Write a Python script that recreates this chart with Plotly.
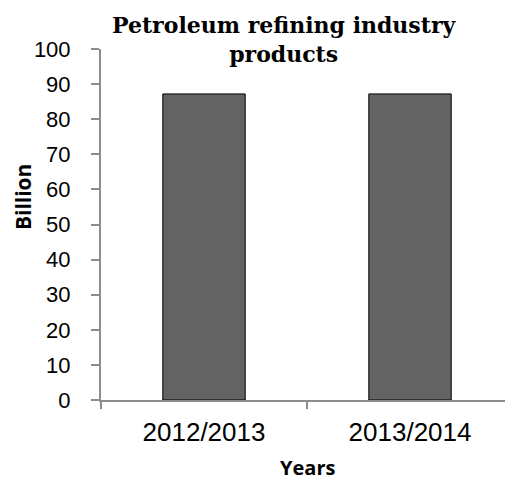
import plotly.graph_objects as go

categories = ["2012/2013", "2013/2014"]
values = [87.2, 87.2]
y_ticks = [0, 10, 20, 30, 40, 50, 60, 70, 80, 90, 100]

fig = go.Figure()
fig.add_trace(go.Bar(
    x=categories, y=values, width=0.40,
    marker=dict(color="#636363", line=dict(color="#000000", width=1)),
))

fig.update_layout(
    width=505, height=481,
    margin=dict(l=101, r=0, t=49, b=81),
    paper_bgcolor="white", plot_bgcolor="white",
    showlegend=False,
    font=dict(family="Liberation Sans, Arial", color="black"),
)
fig.update_xaxes(
    type="category", range=[-0.5, 1.461],
    tickson="boundaries", ticks="outside", ticklen=7, tickcolor="#8c8c8c", tickwidth=2,
    showline=True, linecolor="#8c8c8c", linewidth=2,
    showgrid=False, zeroline=False,
    tickfont=dict(size=26, family="Liberation Sans, Arial", color="black"),
    ticklabelstandoff=8,
)
fig.update_yaxes(
    range=[0, 100], tickvals=y_ticks,
    ticks="outside", ticklen=8, tickcolor="#8c8c8c", tickwidth=2,
    showline=True, linecolor="#8c8c8c", linewidth=2,
    showgrid=False, zeroline=False,
    tickfont=dict(size=22, family="Liberation Sans, Arial", color="black"),
    ticklabelstandoff=16,
)
fig.add_annotation(
    text="<b>Petroleum refining industry<br>products</b>",
    xref="paper", yref="paper", x=0.455, y=1.0, yshift=39, xanchor="center", yanchor="top",
    showarrow=False, font=dict(family="DejaVu Serif", size=22, color="black"),
)
fig.add_annotation(
    text="<b>Billion</b>", textangle=-90,
    xref="paper", yref="paper", x=0, xshift=-78, y=0.578, xanchor="center", yanchor="middle",
    showarrow=False, font=dict(family="Open Sans", size=21, color="black"),
)
fig.add_annotation(
    text="<b>Years</b>",
    xref="paper", yref="paper", x=0.512, y=0, yshift=-67, xanchor="center", yanchor="middle",
    showarrow=False, font=dict(family="Open Sans", size=20, color="black"),
)

fig.write_html("out.html", config={"displayModeBar": False},
               post_script="document.body.style.margin='0';")
